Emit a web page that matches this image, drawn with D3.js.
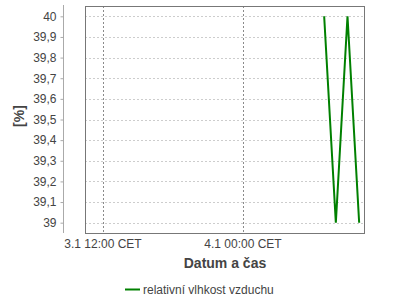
<!DOCTYPE html>
<html>
<head>
<meta charset="utf-8">
<script src="https://cdn.jsdelivr.net/npm/d3@7"></script>
<style>
  body { margin: 0; background: #fff; }
  svg { display: block; font-family: "Liberation Sans", Arial, sans-serif; }
</style>
</head>
<body>
<svg id="chart" width="400" height="300"></svg>
<script>
// data (UTC used as CET wall time)
let times = ["2024-01-04T07:00", "2024-01-04T08:00", "2024-01-04T09:00", "2024-01-04T10:00"];
let values = [40, 39, 40, 39];
let xDomain = ["2024-01-03T10:30", "2024-01-04T10:30"];
let xTicks = ["2024-01-03T12:00", "2024-01-04T00:00"];
let yTicks = [39, 39.1, 39.2, 39.3, 39.4, 39.5, 39.6, 39.7, 39.8, 39.9, 40];
let seriesName = "relativní vlhkost vzduchu";

let parse = d3.utcParse("%Y-%m-%dT%H:%M");
let svg = d3.select("svg");

let plotL = 85, plotR = 365, plotT = 6, plotB = 233;

let x = d3.scaleUtc().domain(xDomain.map(parse)).range([plotL, plotR]);
let y = d3.scaleLinear().domain([38.95, 40.05]).range([plotB, plotT]);

let fmtY = function(d) { return d3.format(".1f")(d).replace(/\.0$/, "").replace(".", ","); };
let fmtX = function(d) { return d3.utcFormat("%-d.%-m %H:%M")(d) + " CET"; };

// horizontal grid
svg.append("g")
  .selectAll("line")
  .data(yTicks)
  .enter().append("line")
    .attr("x1", plotL).attr("x2", plotR)
    .attr("y1", function(d) { return Math.round(y(d)) + 0.5; })
    .attr("y2", function(d) { return Math.round(y(d)) + 0.5; })
    .style("stroke", "#cdcdcd")
    .style("stroke-dasharray", "2,2");

// vertical grid
svg.append("g")
  .selectAll("line")
  .data(xTicks.map(parse))
  .enter().append("line")
    .attr("x1", function(d) { return Math.round(x(d)) + 0.5; })
    .attr("x2", function(d) { return Math.round(x(d)) + 0.5; })
    .attr("y1", plotT).attr("y2", plotB)
    .style("stroke", "#8a8a8a")
    .style("stroke-dasharray", "2,2");

// y axis, offset left of the plot
let yAxis = svg.append("g")
    .attr("transform", "translate(63.5,0)")
    .call(d3.axisLeft(y).tickValues(yTicks).tickFormat(fmtY).tickSize(3).tickPadding(4).tickSizeOuter(0));
yAxis.select(".domain").attr("d", "M0," + (plotT - 1) + "V" + plotB).style("stroke", "#aaa");
yAxis.selectAll(".tick line").style("stroke", "#aaa");
yAxis.selectAll("text").style("fill", "#444").style("font-size", "12px")
    .style("font-family", "'Liberation Sans', Arial, sans-serif");

// x axis labels
let xAxis = svg.append("g")
    .attr("transform", "translate(0," + plotB + ")")
    .call(d3.axisBottom(x).tickValues(xTicks.map(parse)).tickFormat(fmtX).tickSize(0).tickPadding(6));
xAxis.select(".domain").remove();
xAxis.selectAll("text").style("fill", "#444").style("font-size", "12px")
    .style("font-family", "'Liberation Sans', Arial, sans-serif");

// series line
let line = d3.line()
    .x(function(d, i) { return x(parse(times[i])); })
    .y(function(d) { return y(d); });

svg.append("path")
    .datum(values)
    .attr("d", line)
    .attr("fill", "none")
    .style("stroke", "#008000")
    .style("stroke-width", 2);

// plot border
svg.append("rect")
    .attr("x", plotL + 0.5).attr("y", plotT + 0.5)
    .attr("width", plotR - plotL - 1).attr("height", plotB - plotT)
    .attr("fill", "none")
    .style("stroke", "#777");

// axis titles
svg.append("text")
    .attr("x", (plotL + plotR) / 2).attr("y", 268)
    .attr("text-anchor", "middle")
    .style("font-weight", "bold").style("font-size", "14px").style("fill", "#444")
    .text("Datum a čas");

svg.append("text")
    .attr("transform", "translate(24,116) rotate(-90)")
    .attr("text-anchor", "middle")
    .style("font-weight", "bold").style("font-size", "14px").style("fill", "#444")
    .text("[%]");

// legend
svg.append("line")
    .attr("x1", 125).attr("x2", 140)
    .attr("y1", 289.5).attr("y2", 289.5)
    .style("stroke", "#008000").style("stroke-width", 2);
svg.append("text")
    .attr("x", 143).attr("y", 293.5)
    .style("font-size", "12px").style("fill", "#444")
    .text(seriesName);
</script>
</body>
</html>
